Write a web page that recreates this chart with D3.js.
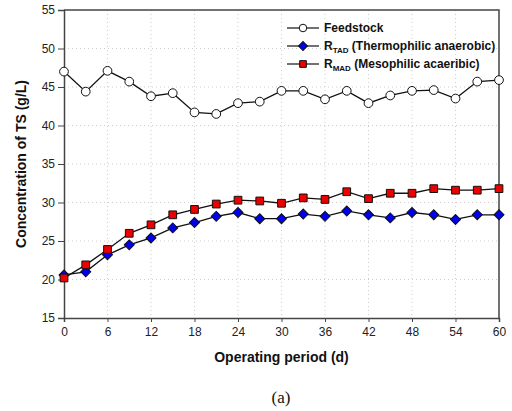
<!DOCTYPE html>
<meta charset="utf-8">
<style>
    body { margin:0; background:#fff; }
    text { font-family:'Liberation Sans', Arial, sans-serif; }
</style>
<body>
<script src="https://cdn.jsdelivr.net/npm/d3@7"></script>
<script>
var days = [0,3,6,9,12,15,18,21,24,27,30,33,36,39,42,45,48,51,54,57,60];
var feedstock = [47.0,44.4,47.1,45.7,43.8,44.2,41.7,41.5,42.9,43.1,44.5,44.5,43.4,44.5,42.9,43.9,44.5,44.6,43.5,45.7,45.9];
var rTAD = [20.6,21.0,23.2,24.5,25.4,26.7,27.4,28.2,28.7,27.9,27.9,28.5,28.2,28.9,28.4,28.0,28.7,28.4,27.8,28.4,28.4];
var rMAD = [20.2,21.9,23.9,26.0,27.1,28.4,29.1,29.8,30.3,30.2,29.9,30.6,30.4,31.4,30.5,31.2,31.2,31.8,31.6,31.6,31.8];
var xTicks = [0,6,12,18,24,30,36,42,48,54,60];
var yTicks = [15,20,25,30,35,40,45,50,55];

var width = 512, height = 411;
var pLeft = 64, pRight = 499, pTop = 10, pBottom = 318;

var svg = d3.select("body").append("svg")
    .attr("width", width)
    .attr("height", height);

var x = d3.scaleLinear().domain([0, 60]).range([pLeft, pRight]);
var y = d3.scaleLinear().domain([15, 55]).range([pBottom, pTop]);

// dotted grid
svg.append("g").selectAll("line").data(xTicks.slice(1, -1)).enter().append("line")
    .attr("x1", function(d) { return x(d); }).attr("x2", function(d) { return x(d); })
    .attr("y1", pTop).attr("y2", pBottom)
    .attr("stroke", "#ccc").attr("stroke-dasharray", "1,3");
svg.append("g").selectAll("line").data(yTicks.slice(1, -1)).enter().append("line")
    .attr("x1", pLeft).attr("x2", pRight)
    .attr("y1", function(d) { return y(d); }).attr("y2", function(d) { return y(d); })
    .attr("stroke", "#ccc").attr("stroke-dasharray", "1,3");

var xAxis = svg.append("g")
    .attr("transform", "translate(0," + pBottom + ")")
    .call(d3.axisBottom(x).tickValues(xTicks).tickSize(4).tickPadding(5));
var yAxis = svg.append("g")
    .attr("transform", "translate(" + pLeft + ",0)")
    .call(d3.axisLeft(y).tickValues(yTicks).tickSize(6).tickPadding(3));
[xAxis, yAxis].forEach(function(a) {
    a.select(".domain").attr("stroke", "#444").attr("stroke-width", 1.5);
    a.selectAll(".tick line").attr("stroke", "#444");
    a.selectAll(".tick text").attr("font-size", 12).attr("fill", "#222")
        .attr("font-family", "'Liberation Sans', Arial, sans-serif");
});
// top and right frame
svg.append("path")
    .attr("d", "M" + pLeft + "," + pTop + "H" + pRight + "V" + pBottom)
    .attr("fill", "none").attr("stroke", "#444").attr("stroke-width", 1.5);

var line = d3.line()
    .x(function(d, i) { return x(days[i]); })
    .y(function(d) { return y(d); });

function drawSeries(vals, shape, size, fill, rot) {
    svg.append("path").datum(vals)
        .attr("d", line).attr("fill", "none")
        .attr("stroke", "#111").attr("stroke-width", 1.3);
    svg.append("g").selectAll("path").data(vals).enter().append("path")
        .attr("d", d3.symbol().type(shape).size(size))
        .attr("transform", function(d, i) {
            return "translate(" + x(days[i]) + "," + y(d) + ") rotate(" + rot + ")";
        })
        .attr("fill", fill).attr("stroke", "#111").attr("stroke-width", 1);
}
drawSeries(feedstock, d3.symbolCircle, 60, "#fff", 0);
drawSeries(rTAD, d3.symbolSquare, 50, "#0000ee", 45);
drawSeries(rMAD, d3.symbolSquare, 60, "#ee0000", 0);

// legend
var legend = [
    {shape: d3.symbolCircle, size: 45, rot: 0, fill: "#fff", main: "Feedstock", sub: "", rest: ""},
    {shape: d3.symbolSquare, size: 40, rot: 45, fill: "#0000ee", main: "R", sub: "TAD", rest: " (Thermophilic anaerobic)"},
    {shape: d3.symbolSquare, size: 45, rot: 0, fill: "#ee0000", main: "R", sub: "MAD", rest: " (Mesophilic acaeribic)"}
];
var lg = svg.append("g").selectAll("g").data(legend).enter().append("g")
    .attr("transform", function(d, i) { return "translate(287," + (28 + i * 18) + ")"; });
lg.append("line").attr("x1", 0).attr("x2", 32).attr("stroke", "#111").attr("stroke-width", 1.2);
lg.append("path")
    .attr("d", function(d) { return d3.symbol().type(d.shape).size(d.size)(); })
    .attr("transform", function(d) { return "translate(16,0) rotate(" + d.rot + ")"; })
    .attr("fill", function(d) { return d.fill; }).attr("stroke", "#111");
var lt = lg.append("text").attr("x", 37).attr("y", 4)
    .attr("font-size", 12).attr("font-weight", "bold").attr("fill", "#111");
lt.append("tspan").text(function(d) { return d.main; });
lt.append("tspan").attr("font-size", 8).attr("dy", 3).text(function(d) { return d.sub; });
lt.append("tspan").attr("dy", -3).text(function(d) { return d.rest; });

// axis titles
svg.append("text")
    .attr("transform", "translate(26," + ((pTop + pBottom) / 2) + ") rotate(-90)")
    .attr("text-anchor", "middle").attr("font-size", 14).attr("font-weight", "bold")
    .attr("fill", "#111").text("Concentration of TS (g/L)");
svg.append("text")
    .attr("x", (pLeft + pRight) / 2).attr("y", 362)
    .attr("text-anchor", "middle").attr("font-size", 14).attr("font-weight", "bold")
    .attr("fill", "#111").text("Operating period (d)");
svg.append("text")
    .attr("x", 281).attr("y", 403)
    .attr("text-anchor", "middle").attr("font-size", 17)
    .style("font-family", "'Liberation Serif', 'Times New Roman', serif")
    .attr("fill", "#111").text("(a)");
</script>
</body>
